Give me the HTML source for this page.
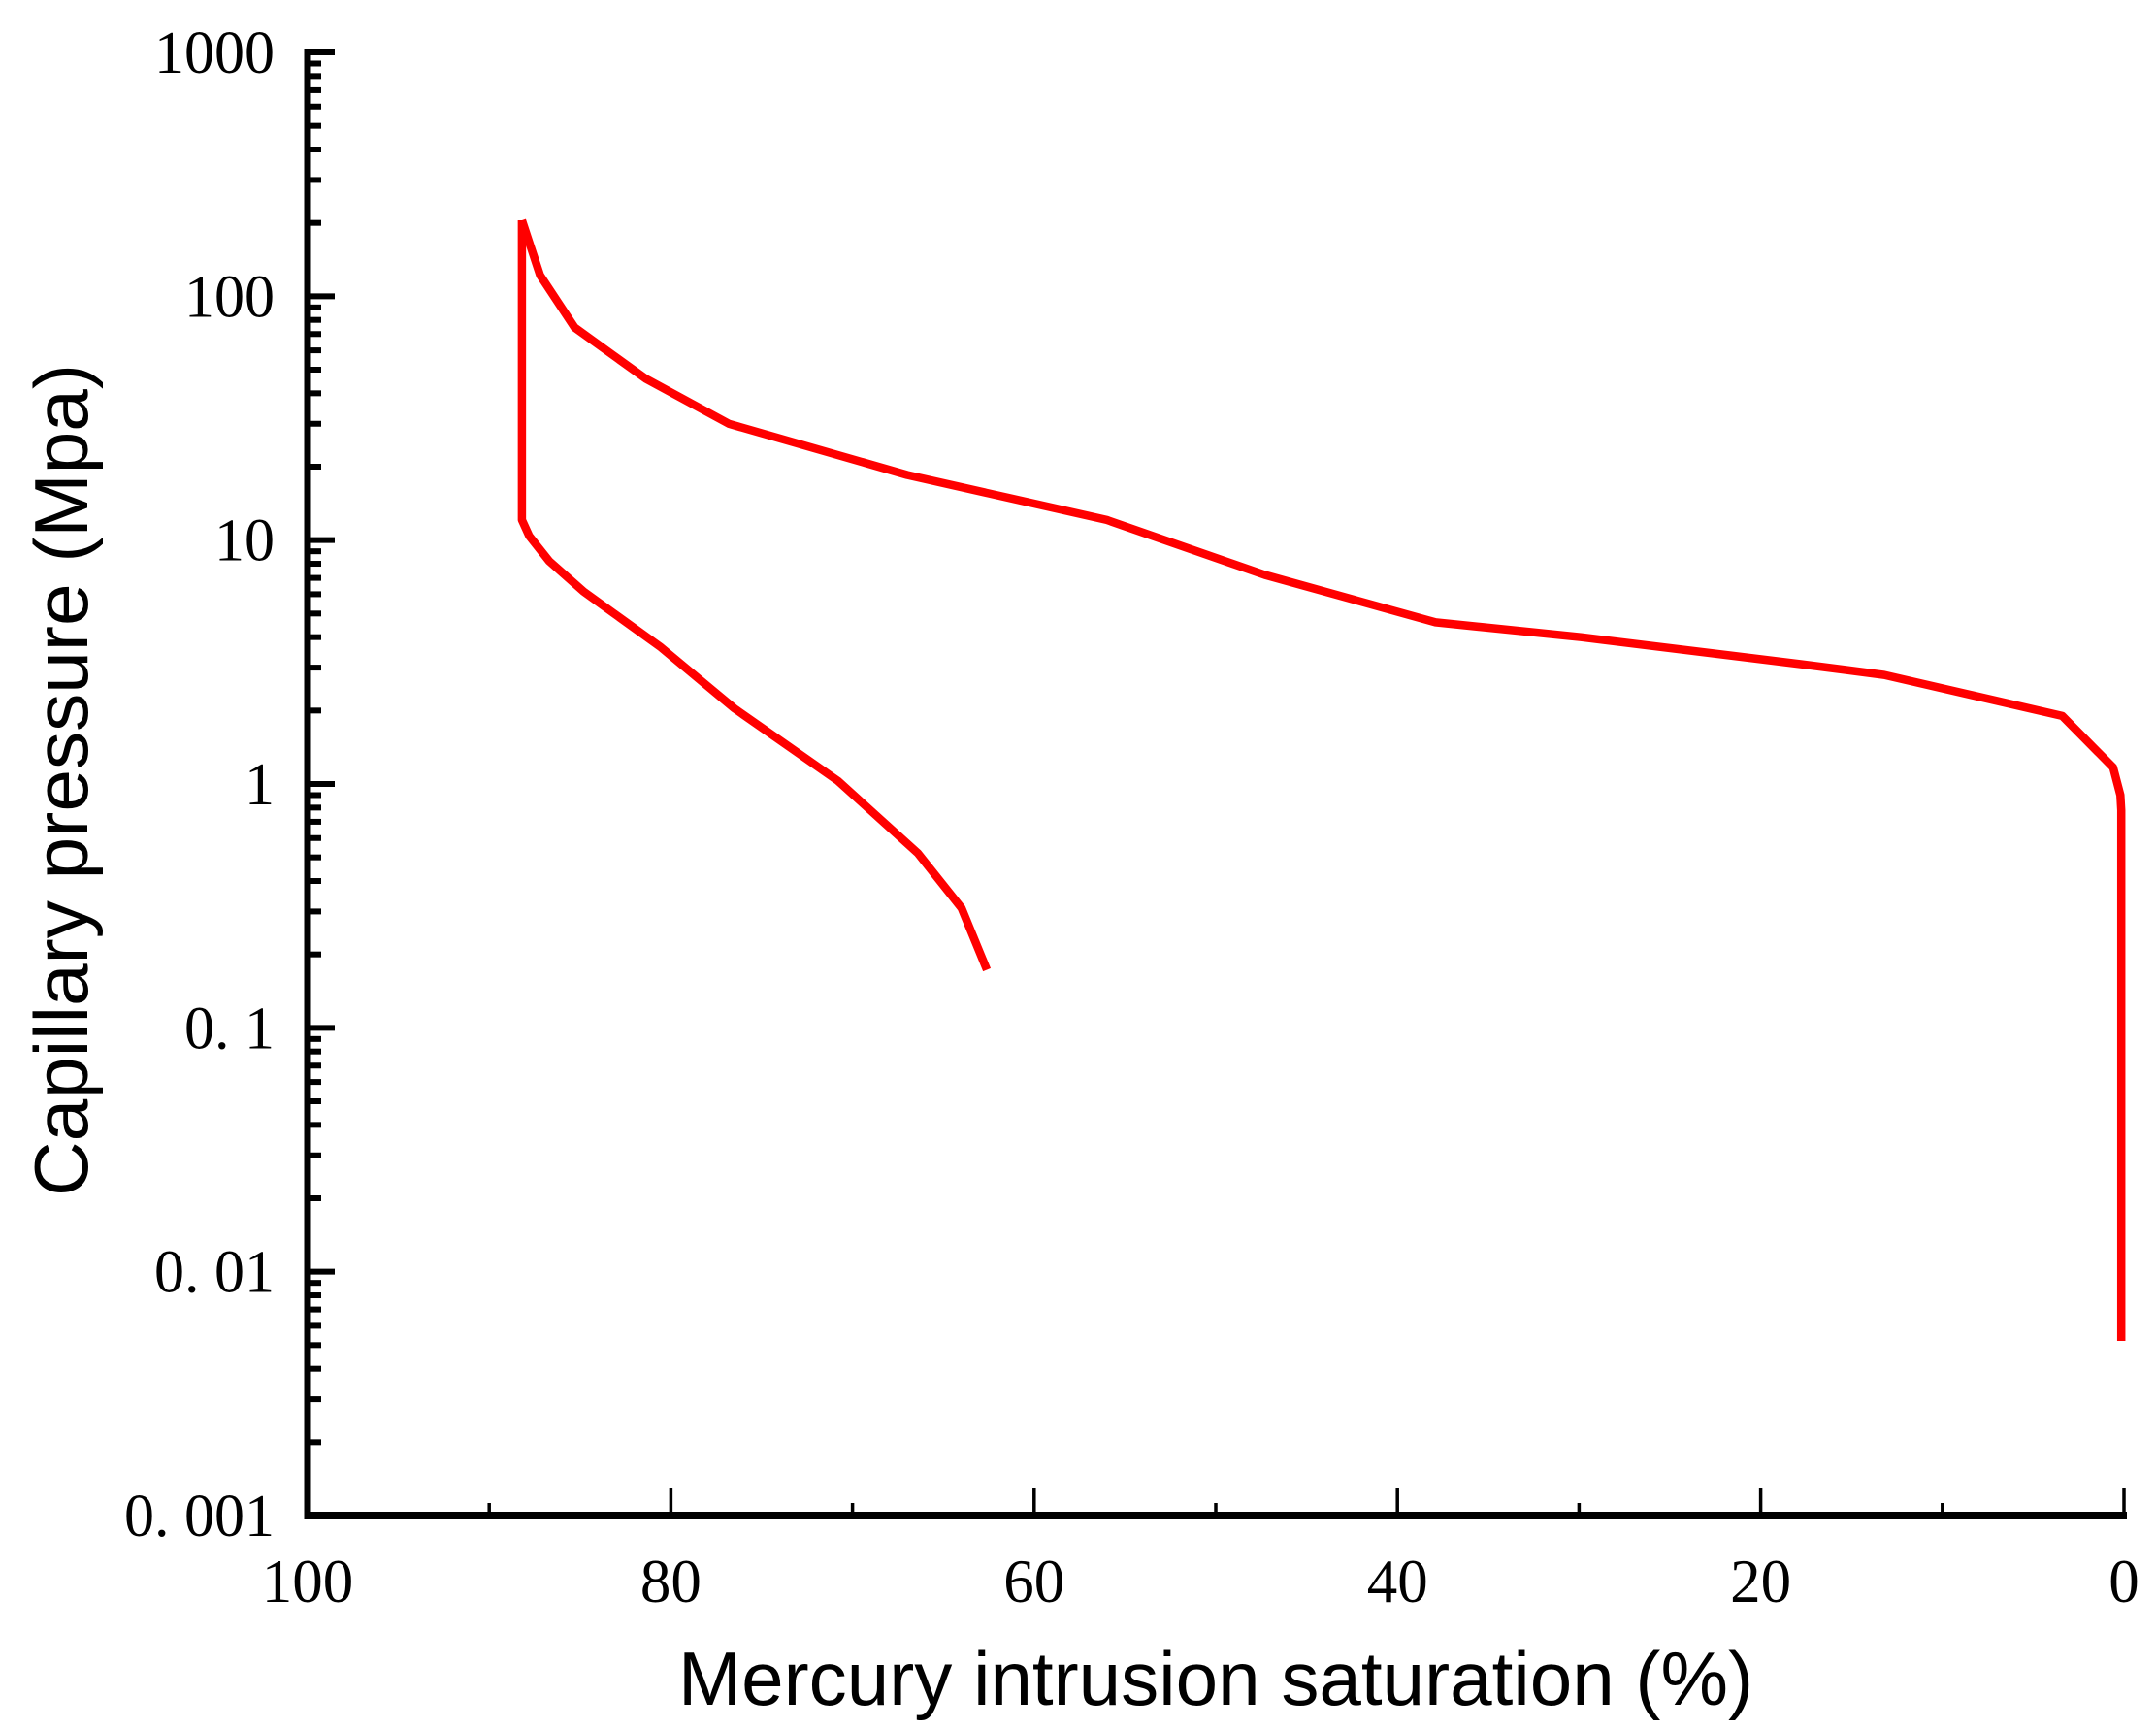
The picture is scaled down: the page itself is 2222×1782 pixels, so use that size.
<!DOCTYPE html>
<html><head><meta charset="utf-8"><style>
html,body{margin:0;padding:0;background:#fff;}
svg{display:block;}
</style></head><body>
<svg id="chart" width="2222" height="1782" viewBox="0 0 2222 1782" xmlns="http://www.w3.org/2000/svg">
<g id="axes"></g>
<g id="series"></g>
<text x="1253" y="1757" text-anchor="middle" font-family="Liberation Sans, sans-serif" font-size="78" textLength="1108" lengthAdjust="spacingAndGlyphs">Mercury intrusion saturation (%)</text>
<text transform="translate(90,804) rotate(-90)" text-anchor="middle" font-family="Liberation Sans, sans-serif" font-size="78" textLength="858" lengthAdjust="spacingAndGlyphs">Capillary pressure (Mpa)</text>
</svg>
<script>
const xTicks = [100, 80, 60, 40, 20, 0];
const xMinor = [90, 70, 50, 30, 10];
const yTicks = [1000, 100, 10, 1, 0.1, 0.01, 0.001];
const yTickLabels = ["1000", "100", "10", "1", "0. 1", "0. 01", "0. 001"];
const intrusionSat = [88.2, 87.2, 85.3, 81.4, 76.8, 67.0, 56.0, 47.3, 37.9, 29.9, 17.8, 13.2, 3.4, 0.6, 0.2, 0.15, 0.15];
const intrusionP = [205, 122, 74.5, 46, 30, 18.5, 12.1, 7.2, 4.6, 4.0, 3.1, 2.8, 1.9, 1.17, 0.9, 0.78, 0.0052];
const withdrawalSat = [88.2, 88.2, 87.8, 86.7, 84.8, 80.6, 76.5, 70.8, 66.4, 64.0, 62.6];
const withdrawalP = [205, 12.1, 10.4, 8.2, 6.15, 3.66, 2.04, 1.03, 0.52, 0.31, 0.173];

const L = 317, R = 2189, T = 54, B = 1562;
const xs = v => R - (v / 100) * (R - L);
const ys = v => B - (Math.log10(v) + 3) / 6 * (B - T);
const NS = "http://www.w3.org/2000/svg";
function mk(tag, attrs, parent) {
  const e = document.createElementNS(NS, tag);
  for (const k in attrs) e.setAttribute(k, attrs[k]);
  parent.appendChild(e);
  return e;
}
const ax = document.getElementById('axes');
const ser = document.getElementById('series');

let yl = mk('line', {x1: L, y1: T - 3, x2: L, y2: B + 4, stroke: '#000', 'stroke-width': 7}, ax);


let xl = mk('line', {x1: L - 3, y1: B, x2: R + 3, y2: B, stroke: '#000', 'stroke-width': 8}, ax);



yTicks.forEach((v, i) => {
  const y = ys(v);
  const t = mk('line', {x1: L, y1: y, x2: L + 28, y2: y, stroke: '#000', 'stroke-width': 6}, ax);
  
  
  const lb = mk('text', {x: 283, y: y + 21, 'text-anchor': 'end', 'font-family': 'Liberation Serif, serif', 'font-size': 62}, ax);
  lb.textContent = yTickLabels[i];
  
  
  if (v < 1000) {
    for (let m = 2; m <= 9; m++) {
      const my = ys(v * m);
      const mt = mk('line', {x1: L, y1: my, x2: L + 14, y2: my, stroke: '#000', 'stroke-width': 6}, ax);
      
      
    }
  }
});

xTicks.forEach(v => {
  const x = xs(v);
  const t = mk('line', {x1: x, y1: B, x2: x, y2: B - 28, stroke: '#000', 'stroke-width': 3.5}, ax);
  
  
  const lb = mk('text', {x: x, y: 1651, 'text-anchor': 'middle', 'font-family': 'Liberation Serif, serif', 'font-size': 63}, ax);
  lb.textContent = String(v);
  
  
});
xMinor.forEach(v => {
  const x = xs(v);
  const t = mk('line', {x1: x, y1: B, x2: x, y2: B - 13, stroke: '#000', 'stroke-width': 3.5}, ax);
  
  
});

function pts(sx, sy) { return sx.map((s, i) => xs(s).toFixed(1) + ',' + ys(sy[i]).toFixed(1)).join(' '); }
const p1 = mk('polyline', {points: pts(intrusionSat, intrusionP), fill: 'none', stroke: '#ff0000', 'stroke-width': 8.5, 'stroke-linejoin': 'round'}, ser);


const p2 = mk('polyline', {points: pts(withdrawalSat, withdrawalP), fill: 'none', stroke: '#ff0000', 'stroke-width': 8.5, 'stroke-linejoin': 'round'}, ser);


</script>
</body></html>
